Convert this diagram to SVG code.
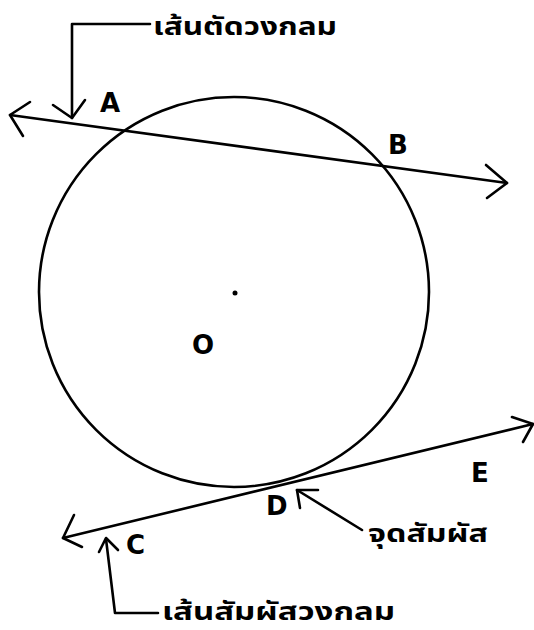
<svg xmlns="http://www.w3.org/2000/svg" width="534" height="630" viewBox="0 0 534 630">
  <style>
    .ln { fill: none; stroke: #000; stroke-width: 2.6; stroke-linecap: round; stroke-linejoin: round; }
    .lbl { font-family: "DejaVu Sans", "Noto Sans", sans-serif; font-weight: bold; font-size: 26px; fill: #000; }
    .th { font-family: "Noto Sans Thai", "Noto Sans", "DejaVu Sans", sans-serif; font-weight: bold; font-size: 25px; fill: #000; }
  </style>
  <rect width="534" height="630" fill="#fff"/>
  <g id="circle">
    <circle cx="234" cy="292" r="195" class="ln" stroke-width="2.4"/>
  </g>
  <g id="center-O">
    <circle cx="235" cy="293" r="2.5" fill="#000"/>
    <text class="lbl" x="192" y="354">O</text>
  </g>
  <g id="point-A"><text class="lbl" x="100" y="112">A</text></g>
  <g id="point-B"><text class="lbl" x="388" y="154">B</text></g>
  <g id="point-C"><text class="lbl" x="126" y="554">C</text></g>
  <g id="point-D"><text class="lbl" x="266" y="515">D</text></g>
  <g id="point-E"><text class="lbl" x="471" y="482">E</text></g>
  <g id="label-secant"><text class="th" x="153" y="35" textLength="184" lengthAdjust="spacingAndGlyphs">เส้นตัดวงกลม</text></g>
  <g id="label-tangent-point"><text class="th" x="368" y="542" textLength="120" lengthAdjust="spacingAndGlyphs">จุดสัมผัส</text></g>
  <g id="label-tangent"><text class="th" x="162" y="620" textLength="233" lengthAdjust="spacingAndGlyphs">เส้นสัมผัสวงกลม</text></g>
  <g id="connectors">
    <!-- secant line AB -->
    <line class="ln" x1="10" y1="115" x2="507" y2="183"/>
    <polyline class="ln" points="30,102 10,115 23,136"/>
    <polyline class="ln" points="486,165 507,183 487,198"/>
    <!-- tangent line CE -->
    <line class="ln" x1="63" y1="538" x2="533" y2="424"/>
    <polyline class="ln" points="74,515 63,538 82,547"/>
    <polyline class="ln" points="512,417 533,424 523,442"/>
    <!-- secant callout -->
    <polyline class="ln" points="150,24 72,24 72,118"/>
    <polyline class="ln" points="53,105 72,118 85,100"/>
    <!-- tangent callout -->
    <polyline class="ln" points="158,613 115,613 106,539"/>
    <polyline class="ln" points="99,552 106,538 118,550"/>
    <!-- tangent point callout -->
    <line class="ln" x1="362" y1="530" x2="297" y2="490"/>
    <polyline class="ln" points="318,490 297,490 300,508"/>
  </g>
</svg>
